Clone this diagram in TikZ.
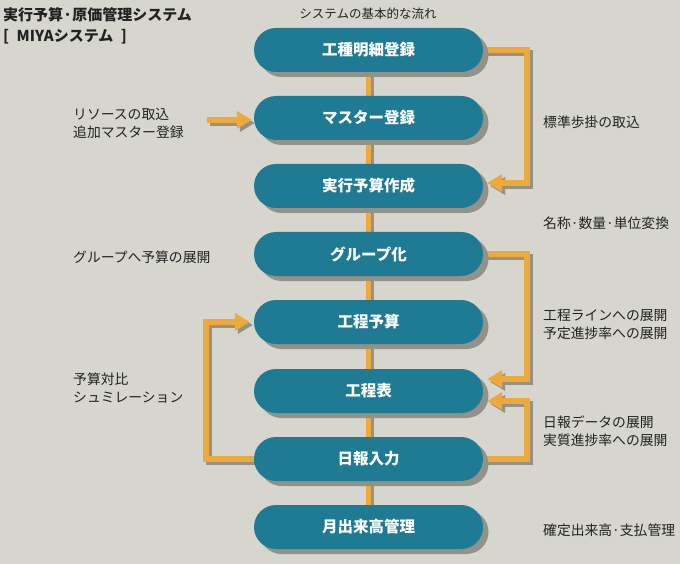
\documentclass[tikz,border=0pt]{standalone}
\usepackage{fontspec}
\setmainfont{Noto Sans CJK JP}
\usetikzlibrary{arrows.meta,backgrounds,calc}
\definecolor{bgC}{HTML}{D6D6CE}
\definecolor{tealC}{HTML}{1F7A94}
\definecolor{orangeC}{HTML}{EFA93A}
\definecolor{shadowC}{HTML}{929289}
\definecolor{textC}{HTML}{222222}
\tikzset{
  pill/.style={rectangle, rounded corners=22pt, fill=tealC, minimum width=229pt, minimum height=44pt,
    text=white, font=\fontsize{15.5}{18}\selectfont\bfseries, inner sep=0pt},
  pillshadow/.style={rectangle, rounded corners=22pt, fill=shadowC, minimum width=229pt, minimum height=44pt, inner sep=0pt},
  flow/.style={draw=orangeC, line width=5.5pt, line join=miter},
  flowsh/.style={draw=shadowC, line width=5.5pt, line join=miter, transform canvas={shift={(3pt,-3pt)}}},
  arr/.style={flow, -{Triangle[length=15pt,width=17pt]}},
  arrsh/.style={flowsh, -{Triangle[length=15pt,width=17pt]}},
  lbl/.style={anchor=west, text=textC, font=\fontsize{13.8}{18}\selectfont, align=left, inner sep=0pt},
  ttl/.style={anchor=west, text=textC, font=\fontsize{15}{20}\selectfont\bfseries, inner sep=0pt}
}
\newcommand\shadowedarrow[1]{\draw[arrsh] #1; \draw[arr] #1;}
\begin{document}
\begin{tikzpicture}[x=1pt,y=-1pt]
\useasboundingbox (0,0) rectangle (680,564);
\begin{scope}[on background layer]
\fill[bgC] (0,0) rectangle (680,564);
\end{scope}

\node[ttl] (t1) at (3,15) {実行予算·原価管理システム};
\node[ttl] (t2) at (3,37) {[\,\,\,MIYAシステム\,\,\,]};
\node[text=textC, font=\fontsize{12.5}{15}\selectfont, inner sep=0pt] (t3) at (368,14) {システムの基本的な流れ};

\node[pillshadow] (s1) at (374,55) {};
\node[pillshadow] (s2) at (374,123) {};
\node[pillshadow] (s3) at (374,191) {};
\node[pillshadow] (s4) at (374,259) {};
\node[pillshadow] (s5) at (374,327) {};
\node[pillshadow] (s6) at (374,396) {};
\node[pillshadow] (s7) at (374,464) {};
\node[pillshadow] (s8) at (374,532) {};

\node[pill] (b1) at (368.5,50) {工種明細登録};
\node[pill] (b2) at (368.5,118) {マスター登録};
\node[pill] (b3) at (368.5,186) {実行予算作成};
\node[pill] (b4) at (368.5,254) {グループ化};
\node[pill] (b5) at (368.5,322) {工程予算};
\node[pill] (b6) at (368.5,391) {工程表};
\node[pill] (b7) at (368.5,459) {日報入力};
\node[pill] (b8) at (368.5,527) {月出来高管理};

\node[lbl] (l1) at (73,123) {リソースの取込\\追加マスター登録};
\node[lbl] (l2) at (73,257) {グループへ予算の展開};
\node[lbl] (l3) at (73,388) {予算対比\\シュミレーション};
\node[lbl] (r1) at (543,122) {標準歩掛の取込};
\node[lbl] (r2) at (543,223) {名称·数量·単位変換};
\node[lbl] (r3) at (543,324) {工程ラインへの展開\\予定進捗率への展開};
\node[lbl] (r4) at (543,431) {日報データの展開\\実質進捗率への展開};
\node[lbl] (r5) at (543,530) {確定出来高·支払管理};

\coordinate (m0) at (207,120);

\begin{scope}[on background layer]
\draw[flowsh] (b1.center) -- (b8.center);
\draw[flow] (b1.center) -- (b8.center);
\shadowedarrow{(b1.east) -- ++(44,0) |- ([xshift=4pt,yshift=3pt]b3.east)}
\shadowedarrow{(b4.east) -- ++(44,0) |- ([xshift=4pt,yshift=12pt]b6.east)}
\shadowedarrow{(b7.east) -- ++(44,0) |- ([xshift=4pt,yshift=-10pt]b6.east)}
\shadowedarrow{(b7.west) -- ++(-48,0) |- ([xshift=-4pt]b5.west)}
\shadowedarrow{(m0) -- ([xshift=-2pt,yshift=-2pt]b2.west)}
\end{scope}
\end{tikzpicture}
\end{document}
